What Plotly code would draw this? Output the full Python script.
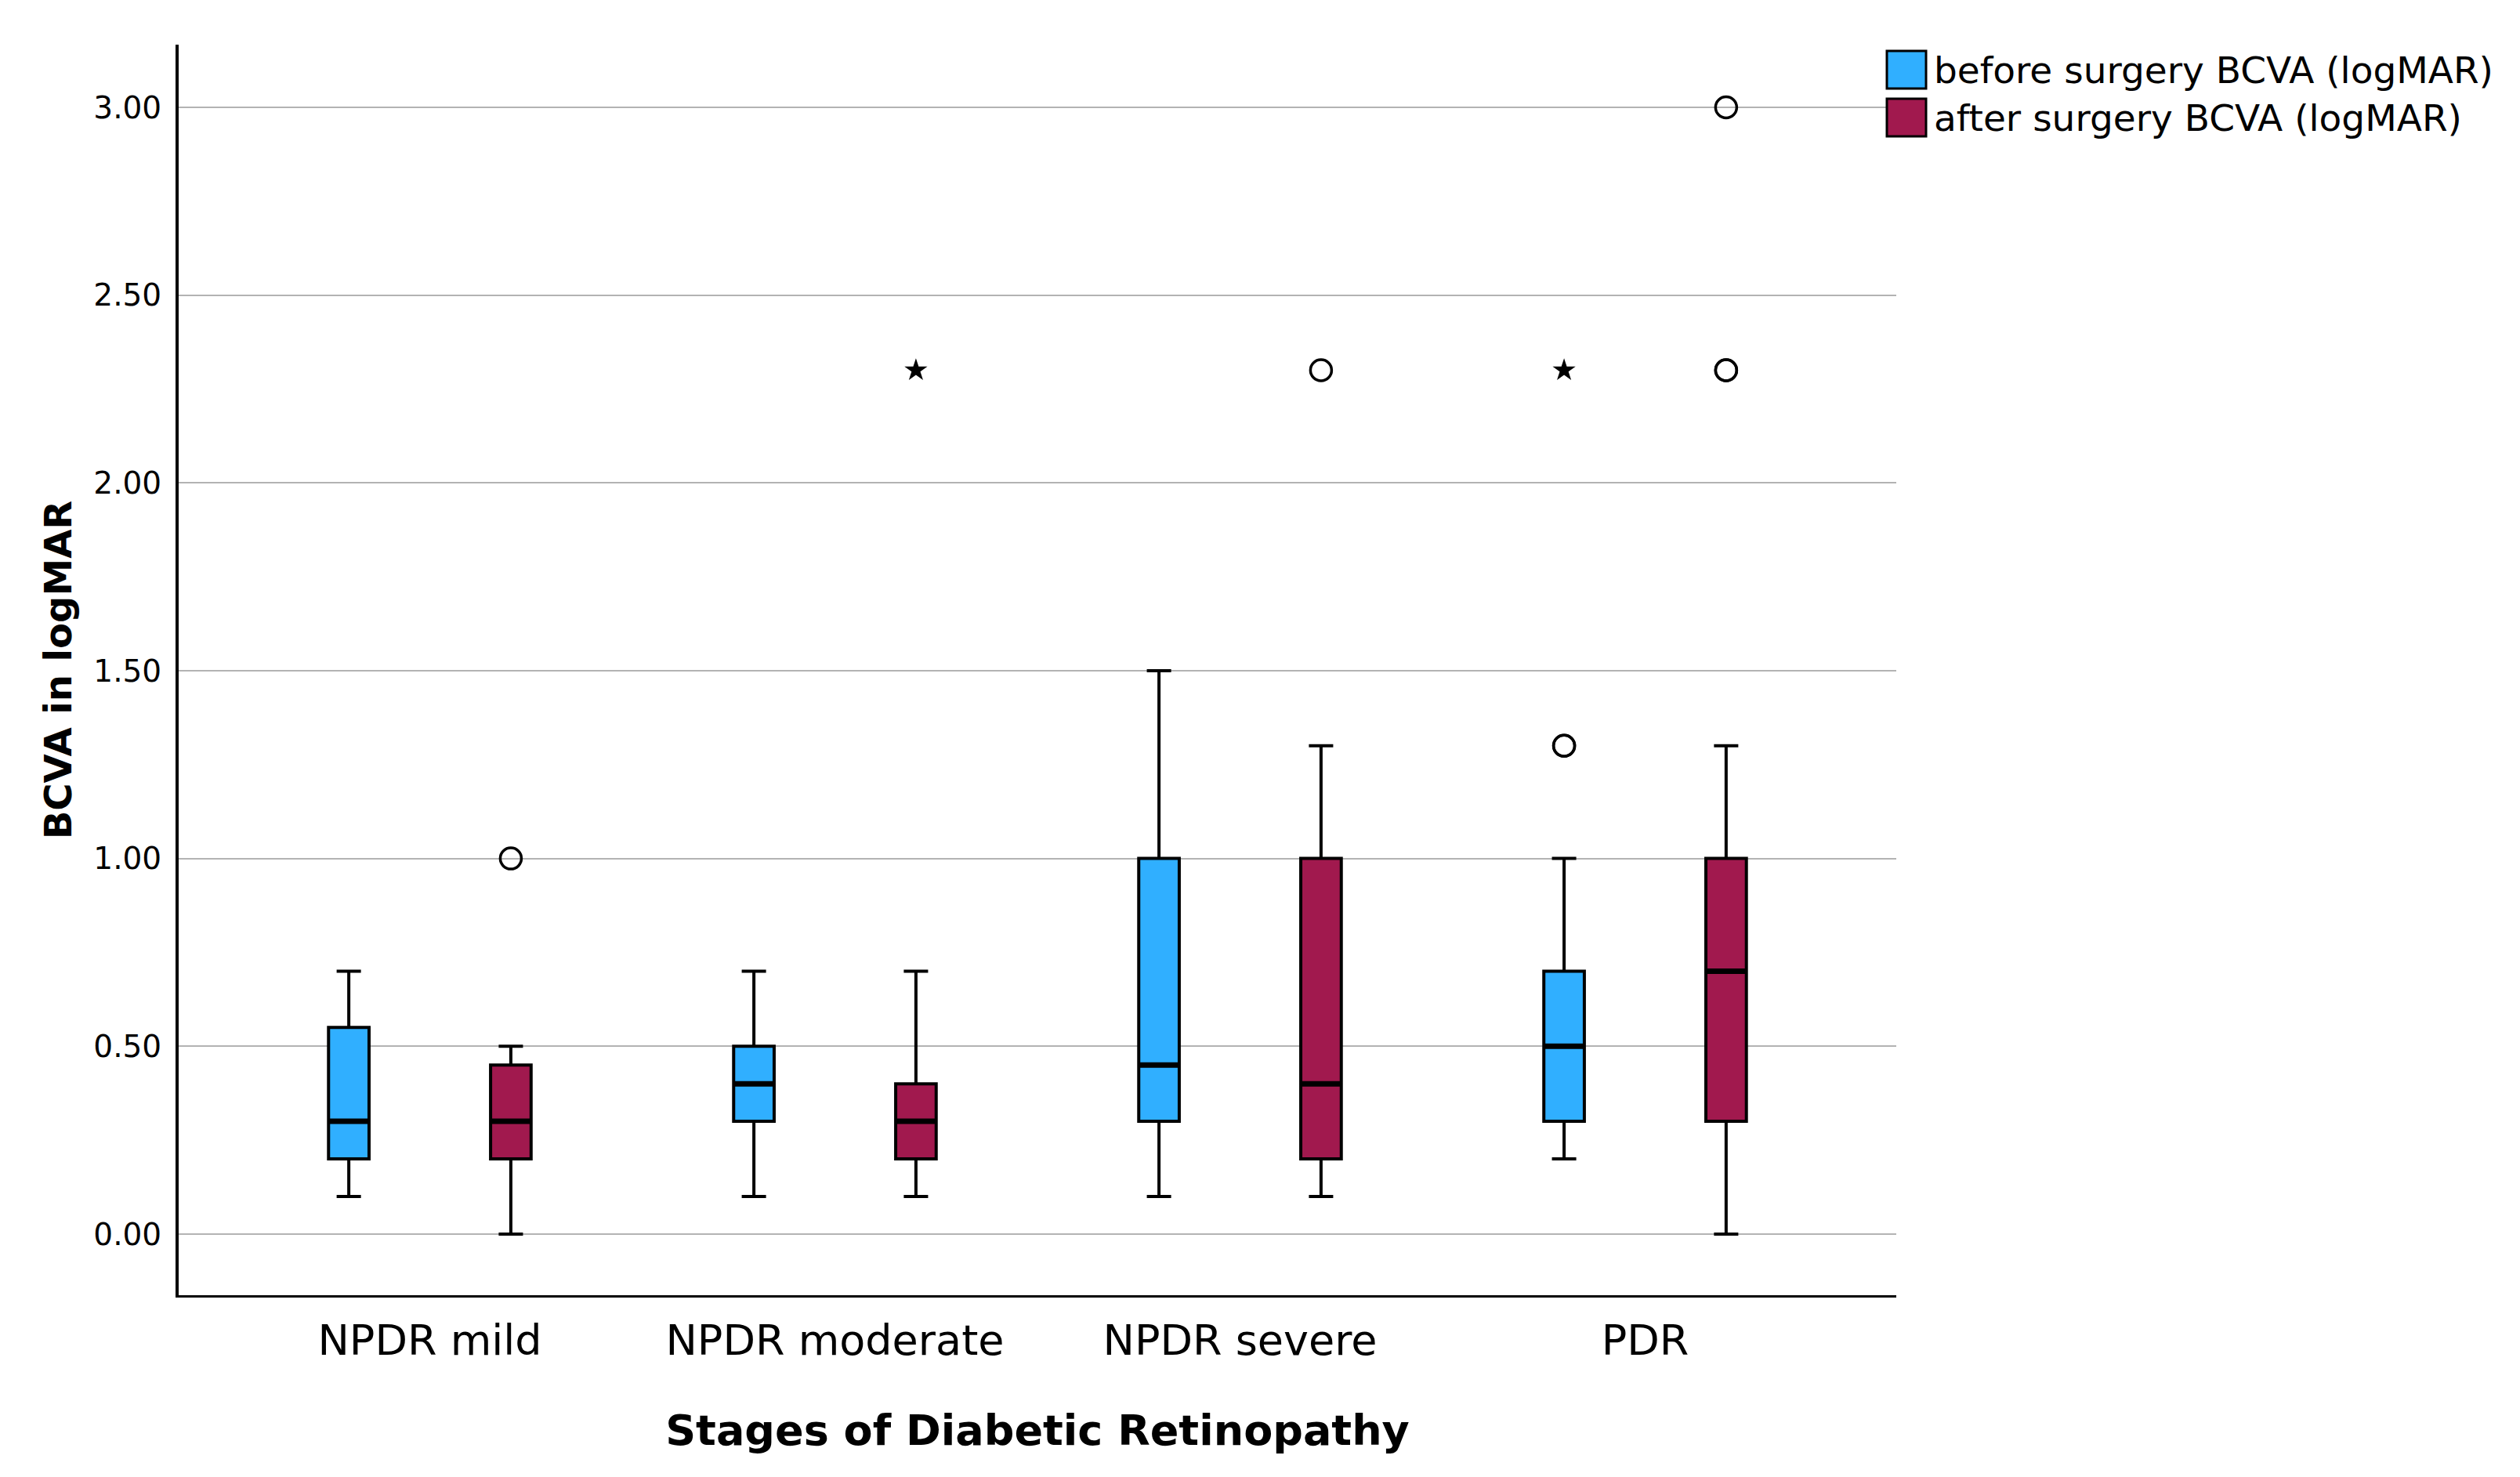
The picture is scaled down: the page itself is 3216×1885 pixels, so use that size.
import plotly.graph_objects as go

# stages on the x axis
stages = ["NPDR mild", "NPDR moderate", "NPDR severe", "PDR"]

# box statistics, before surgery (logMAR)
before_low = [0.10, 0.10, 0.10, 0.20]
before_q1 = [0.20, 0.30, 0.30, 0.30]
before_med = [0.30, 0.40, 0.45, 0.50]
before_q3 = [0.55, 0.50, 1.00, 0.70]
before_high = [0.70, 0.70, 1.50, 1.00]

# box statistics, after surgery (logMAR)
after_low = [0.00, 0.10, 0.10, 0.00]
after_q1 = [0.20, 0.20, 0.20, 0.30]
after_med = [0.30, 0.30, 0.40, 0.70]
after_q3 = [0.45, 0.40, 1.00, 1.00]
after_high = [0.50, 0.70, 1.30, 1.30]

# outliers (o) and extremes (*)
before_out_stage = ["PDR", "PDR"]
before_out_val = [1.30, 1.30]
before_ext_stage = ["PDR"]
before_ext_val = [2.30]
after_out_stage = ["NPDR mild", "NPDR severe", "PDR", "PDR", "PDR"]
after_out_val = [1.00, 2.30, 2.30, 2.30, 3.00]
after_ext_stage = ["NPDR moderate"]
after_ext_val = [2.30]

before_name = "before surgery BCVA (logMAR)"
after_name = "after surgery BCVA (logMAR)"
BLUE = "#30AFFF"
RED = "#A1194E"
FONT = "DejaVu Sans"

W, H = 3216, 1885
L, R, T, B = 228, 796, 57, 232
BOXW = 0.1

def pos(names, shift):
    return [stages.index(n) + shift for n in names]

fig = go.Figure()

series = [
    (before_name, BLUE, -0.2, before_low, before_q1, before_med, before_q3, before_high,
     before_out_stage, before_out_val, before_ext_stage, before_ext_val),
    (after_name, RED, 0.2, after_low, after_q1, after_med, after_q3, after_high,
     after_out_stage, after_out_val, after_ext_stage, after_ext_val),
]

for name, col, shift, lo, q1, med, q3, hi, os_, ov, es, ev in series:
    xs = pos(stages, shift)
    fig.add_trace(go.Box(
        name=name, x=xs,
        lowerfence=lo, q1=q1, median=med, q3=q3, upperfence=hi,
        width=BOXW, whiskerwidth=0.6, fillcolor=col,
        line=dict(color="black", width=4),
        boxpoints=False, showlegend=False, hoverinfo="skip"))
    # SPSS draws the median heavier than the box outline
    mx, my = [], []
    for x, m in zip(xs, med):
        mx += [x - BOXW / 2, x + BOXW / 2, None]
        my += [m, m, None]
    fig.add_trace(go.Scatter(x=mx, y=my, mode="lines", showlegend=False, hoverinfo="skip",
                             line=dict(color="black", width=7)))
    fig.add_trace(go.Scatter(
        x=pos(os_, shift), y=ov, mode="markers", showlegend=False, hoverinfo="skip",
        marker=dict(symbol="circle-open", size=27, color="black", line=dict(width=3.5, color="black"))))
    fig.add_trace(go.Scatter(
        x=pos(es, shift), y=ev, mode="markers", showlegend=False, hoverinfo="skip",
        marker=dict(symbol="star", size=22, color="black", line=dict(width=0))))

# legend drawn by hand so the swatches can be as big as in the original
pw, ph = W - L - R, H - T - B
px_x = lambda p: (p - L) / pw
px_y = lambda p: 1 - (p - T) / ph
for i, (name, col) in enumerate([(before_name, BLUE), (after_name, RED)]):
    top = 65 + i * 61
    fig.add_shape(type="rect", xref="paper", yref="paper",
                  x0=px_x(2408), x1=px_x(2458), y0=px_y(top), y1=px_y(top + 48),
                  fillcolor=col, line=dict(color="black", width=3))
    fig.add_annotation(text=name, xref="paper", yref="paper", x=px_x(2466), y=px_y(top + 24),
                       xanchor="left", yanchor="middle", showarrow=False,
                       font=dict(family=FONT, size=47, color="black"))

fig.update_layout(
    width=W, height=H,
    margin=dict(l=L, r=R, t=T, b=B),
    plot_bgcolor="white", paper_bgcolor="white",
    font=dict(family=FONT, color="black"),
    showlegend=False,
)
fig.update_xaxes(
    range=[-0.62, 3.62], tickvals=list(range(len(stages))), ticktext=stages,
    showgrid=False, zeroline=False, ticks="",
    showline=True, linecolor="black", linewidth=3,
    tickfont=dict(size=54), ticklabelstandoff=8,
    title=dict(text="<b>Stages of Diabetic Retinopathy</b>", font=dict(size=54), standoff=66),
)
fig.update_yaxes(
    range=[-0.163, 3.167], tick0=0, dtick=0.5, tickformat=".2f",
    showgrid=True, gridcolor="#B3B3B3", gridwidth=2, zeroline=False, ticks="",
    showline=True, linecolor="black", linewidth=4,
    tickfont=dict(size=39), ticklabelstandoff=10,
    title=dict(text="<b>BCVA in logMAR</b>", font=dict(size=48), standoff=14),
)

fig.write_html("out.html", config={"displayModeBar": False},
               post_script="document.body.style.margin='0';")
